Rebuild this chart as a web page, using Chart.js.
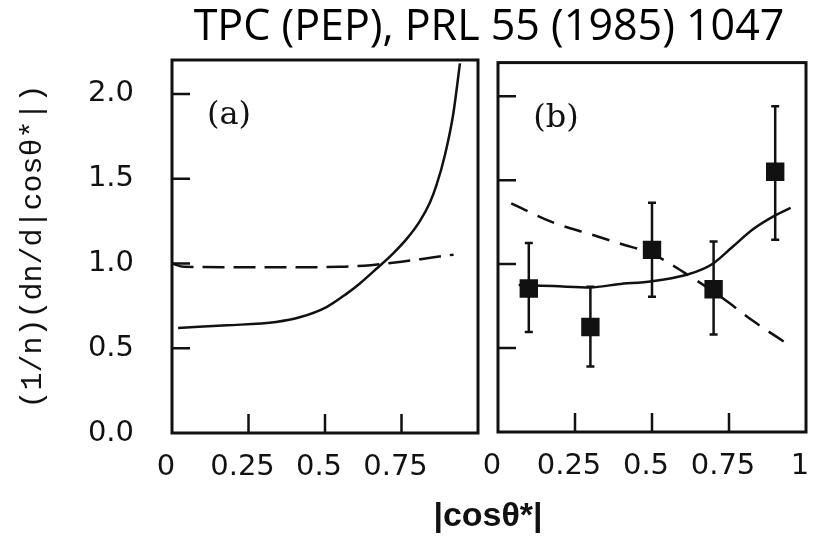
<!DOCTYPE html>
<html lang="en">
<head>
<meta charset="UTF-8" />
<title>TPC (PEP), PRL 55 (1985) 1047</title>
<script src="https://cdn.jsdelivr.net/npm/chart.js"></script>
<style>
  html, body { margin: 0; padding: 0; background: #fff; }
  #wrap { position: relative; width: 813px; height: 539px; overflow: hidden; background: #fff; }
  #wrap canvas { position: absolute; top: 0; }
  #chartA { left: 0; }
  #chartB { left: 163px; }
</style>
</head>
<body>
<div id="wrap">
  <canvas id="chartA" width="813" height="539"></canvas>
  <canvas id="chartB" width="656" height="539"></canvas>
</div>
<script>
// tick values
const yTicks = [0, 0.5, 1.0, 1.5, 2.0];
const xTicksA = [0, 0.25, 0.5, 0.75];
const xTicksB = [0, 0.25, 0.5, 0.75, 1];

// panel (a): solid and dashed curves
const solidAx = [0.02, 0.18, 0.34, 0.42, 0.505, 0.571, 0.614, 0.669, 0.723, 0.767, 0.81, 0.843, 0.864, 0.892, 0.919, 0.941];
const solidAy = [0.62, 0.635, 0.655, 0.684, 0.743, 0.822, 0.882, 0.97, 1.06, 1.145, 1.25, 1.36, 1.46, 1.64, 1.88, 2.18];
const dashAx = [0, 0.04, 0.2, 0.4, 0.55, 0.65, 0.75, 0.85, 0.92];
const dashAy = [1.0, 0.98, 0.978, 0.978, 0.98, 0.99, 1.01, 1.035, 1.052];

// panel (b): measured points with errors, plus the two curves
const dataX = [0.1, 0.3, 0.5, 0.7, 0.9];
const dataY = [0.855, 0.625, 1.085, 0.85, 1.55];
const errHigh = [1.125, 0.865, 1.365, 1.135, 1.94];
const errLow = [0.595, 0.39, 0.805, 0.58, 1.145];
const solidBx = [0.067, 0.18, 0.3, 0.39, 0.5, 0.61, 0.67, 0.7, 0.76, 0.83, 0.9, 0.95];
const solidBy = [0.875, 0.869, 0.861, 0.88, 0.898, 0.935, 0.975, 1.005, 1.1, 1.21, 1.29, 1.335];
const dashBx = [0.043, 0.18, 0.3, 0.4, 0.5, 0.61, 0.73, 0.83, 0.95];
const dashBy = [1.361, 1.247, 1.178, 1.12, 1.061, 0.943, 0.796, 0.659, 0.512];

const pairs = (xs, ys) => xs.map((x, i) => ({ x: x, y: ys[i] }));
const INK = '#111';
const tickFont = { family: '"DejaVu Sans"', size: 29 };

// frame, inward tick marks, error bars, panel label, axis title
const frameTicks = {
  id: 'frameTicks',
  beforeDatasetsDraw(chart, args, opts) {
    if (!opts.errors) return;
    const { ctx, scales: { x, y } } = chart;
    ctx.save();
    ctx.strokeStyle = INK;
    ctx.lineWidth = 2.5;
    ctx.beginPath();
    opts.errors.x.forEach((v, i) => {
      const px = x.getPixelForValue(v);
      const top = y.getPixelForValue(opts.errors.hi[i]);
      const bot = y.getPixelForValue(opts.errors.lo[i]);
      ctx.moveTo(px, top); ctx.lineTo(px, bot);
      ctx.moveTo(px - 4, top); ctx.lineTo(px + 4, top);
      ctx.moveTo(px - 4, bot); ctx.lineTo(px + 4, bot);
    });
    ctx.stroke();
    ctx.restore();
  },
  afterDatasetsDraw(chart, args, opts) {
    const { ctx, chartArea: a, scales: { x, y } } = chart;
    ctx.save();
    ctx.strokeStyle = INK;
    ctx.lineWidth = 2.5;
    ctx.beginPath();
    x.ticks.forEach(t => {
      if (t.value <= x.min || t.value >= x.max) return;
      const px = x.getPixelForValue(t.value);
      ctx.moveTo(px, a.bottom); ctx.lineTo(px, a.bottom - 19);
    });
    y.ticks.forEach(t => {
      if (t.value <= y.min || t.value >= y.max) return;
      const py = y.getPixelForValue(t.value);
      ctx.moveTo(a.left, py); ctx.lineTo(a.left + 18, py);
    });
    ctx.stroke();
    ctx.lineWidth = 3;
    ctx.strokeRect(a.left, a.top, a.right - a.left, a.bottom - a.top);
    ctx.fillStyle = INK;
    ctx.textAlign = 'center';
    ctx.textBaseline = 'middle';
    ctx.font = '32px "DejaVu Serif"';
    ctx.fillText(opts.label, a.left + opts.labelDx, a.top + 56);
    if (opts.axisTitle) {
      ctx.font = 'bold 34px "Liberation Sans"';
      ctx.fillText(opts.axisTitle, 488, 517);
    }
    ctx.restore();
  }
};

function makeScales(xTicks, showY) {
  return {
    x: {
      type: 'linear', min: 0, max: 1,
      afterBuildTicks: s => { s.ticks = xTicks.map(v => ({ value: v })); },
      afterFit: s => { s.height = showY ? 106 : 107; s.paddingLeft = 0; s.paddingRight = 0; },
      grid: { display: false }, border: { display: false },
      ticks: { autoSkip: false, maxRotation: 0, padding: 9, labelOffset: -6, color: INK, font: tickFont,
               callback: v => String(v) }
    },
    y: {
      type: 'linear', min: 0, max: 2.2,
      afterBuildTicks: s => { s.ticks = yTicks.map(v => ({ value: v })); },
      afterFit: s => { s.width = showY ? 172 : 335; },
      grid: { display: false }, border: { display: false },
      ticks: { display: showY, padding: 30, color: INK, font: tickFont, callback: v => v.toFixed(1) },
      title: { display: showY, text: '(1/n)(dn/d|cos\u03b8*|)', color: INK, padding: { top: 15, bottom: 0 },
               font: { family: '"Liberation Mono"', size: 30 } }
    }
  };
}

const lineSet = (data, dash) => ({
  type: 'line', data: data, borderColor: INK, borderWidth: 2.5, borderDash: dash,
  pointRadius: 0, fill: false, cubicInterpolationMode: 'monotone'
});

new Chart(document.getElementById('chartA'), {
  type: 'line',
  data: { datasets: [lineSet(pairs(solidAx, solidAy), []), lineSet(pairs(dashAx, dashAy), [22, 9])] },
  options: {
    responsive: false, animation: false,
    layout: { padding: { top: 60, right: 335, bottom: 0, left: 0 } },
    scales: makeScales(xTicksA, true),
    plugins: {
      legend: { display: false }, tooltip: { enabled: false },
      frameTicks: { label: '(a)', labelDx: 57, axisTitle: '|cos\u03b8*|' }
    }
  },
  plugins: [frameTicks]
});

new Chart(document.getElementById('chartB'), {
  type: 'line',
  data: {
    datasets: [
      lineSet(pairs(solidBx, solidBy), []),
      lineSet(pairs(dashBx, dashBy), [18, 11]),
      { type: 'scatter', data: pairs(dataX, dataY), showLine: false, pointStyle: 'rect', pointRadius: 13,
        backgroundColor: INK, borderColor: INK, borderWidth: 0 }
    ]
  },
  options: {
    responsive: false, animation: false,
    layout: { padding: { top: 0, right: 4, bottom: 0, left: 0 } },
    scales: makeScales(xTicksB, false),
    plugins: {
      legend: { display: false }, tooltip: { enabled: false },
      title: { display: true, text: 'TPC (PEP), PRL 55 (1985) 1047', color: '#000',
               padding: { top: 2, bottom: 9 }, font: { family: '"Open Sans"', size: 43, weight: 'normal' } },
      frameTicks: { label: '(b)', labelDx: 58, errors: { x: dataX, hi: errHigh, lo: errLow } }
    }
  },
  plugins: [frameTicks]
});
</script>
</body>
</html>
